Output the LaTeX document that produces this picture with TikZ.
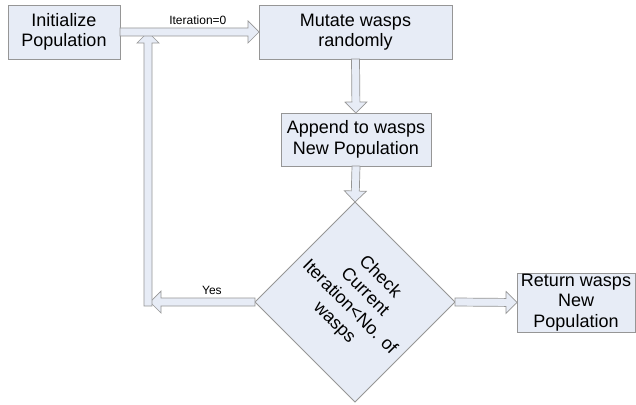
\documentclass[tikz,border=0pt]{standalone}
\usepackage{fontspec}
\setmainfont{Liberation Sans}
\usetikzlibrary{shapes.geometric,calc}
\definecolor{boxfill}{RGB}{231,236,246}
\definecolor{boxline}{RGB}{150,150,150}
\tikzset{
  box/.style={draw=boxline, fill=boxfill, line width=0.8pt, align=center,
    inner sep=0pt, outer sep=0pt, font=\fontsize{18}{20.5}\selectfont},
  dia/.style={draw=boxline, fill=boxfill, line width=0.8pt, shape=diamond,
    minimum width=200pt, minimum height=200pt, inner sep=0pt, outer sep=0pt},
  diatext/.style={rotate=-45, align=center, inner sep=0pt, font=\fontsize{18}{21.5}\selectfont},
  barrow/.style={draw=boxline, fill=boxfill, line width=0.7pt, line join=miter},
  lbl/.style={font=\fontsize{12}{14}\selectfont, inner sep=0pt}
}
\newcommand{\blockarr}[2]{%
  \coordinate (ba-s) at #1;
  \coordinate (ba-e) at #2;
  \coordinate (ba-h) at ($(ba-e)!11pt!(ba-s)$);
  \filldraw[barrow] ($(ba-s)!4pt!90:(ba-e)$) -- ($(ba-h)!4pt!90:(ba-e)$)
    -- ($(ba-h)!11pt!90:(ba-e)$) -- (ba-e) -- ($(ba-h)!11pt!-90:(ba-e)$)
    -- ($(ba-h)!4pt!-90:(ba-e)$) -- ($(ba-s)!4pt!-90:(ba-e)$) -- cycle;
}
\begin{document}
\begin{tikzpicture}[x=1pt,y=-1pt]
\useasboundingbox[fill=white] (0,0) rectangle (636,404);
\node[box, minimum width=112pt, minimum height=54pt] (init) at (64,32) {Initialize\\Population};
\node[box, minimum width=193pt, minimum height=54pt] (mut) at (355.5,32) {Mutate wasps\\randomly};
\node[box, minimum width=150pt, minimum height=53pt] (app) at (356,139.5) {Append to wasps\\New Population};
\node[dia] (dia) at (355,302) {};
\node[diatext] (diat) at ([xshift=2pt,yshift=2pt]dia.center) {Check\\Current\\Iteration<No. of\\wasps};
\node[box, minimum width=118pt, minimum height=59pt] (ret) at (576,302.5) {Return wasps\\New\\Population};
\coordinate (upS) at (148,306);
\coordinate (upE) at (upS |- init.east);
\coordinate (yesE) at (150,302);
% arrows
\blockarr{(dia.west)}{(yesE)}
\path (dia.west) -- (yesE) node[lbl, pos=0.41, above=7pt] {Yes};
\blockarr{(upS)}{(upE)}
\blockarr{(init.east)}{(mut.west)}
\path (init.east) -- (mut.west) node[lbl, pos=0.56, above=7pt] {Iteration=0};
\blockarr{(mut.south)}{(app.north)}
\blockarr{(app.south)}{(dia.north)}
\blockarr{(dia.east)}{(ret.west)}
\end{tikzpicture}
\end{document}
